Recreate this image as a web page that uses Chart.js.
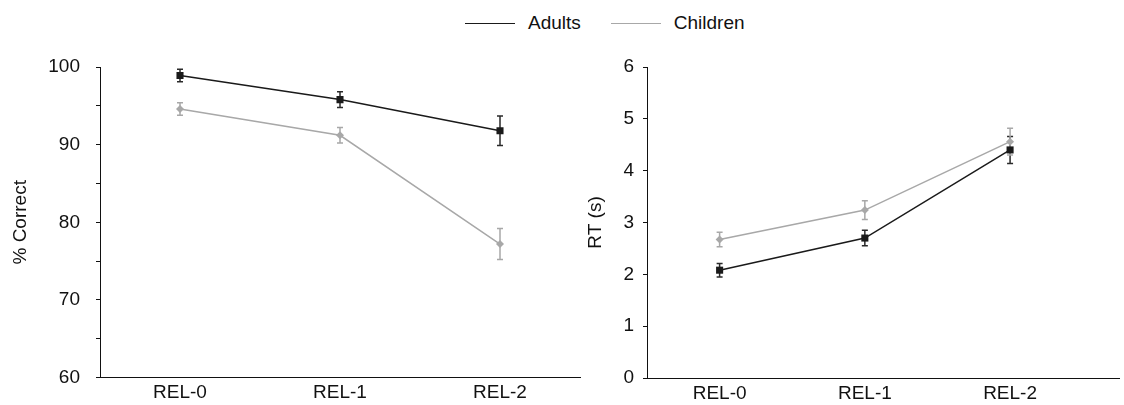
<!DOCTYPE html>
<html>
<head>
<meta charset="utf-8">
<script src="https://cdn.jsdelivr.net/npm/chart.js@4"></script>
<style>
    html, body { margin: 0; padding: 0; background: #fff; }
    body { width: 1124px; height: 405px; position: relative; overflow: hidden; font-family: "Liberation Sans", Arial, sans-serif; }
    #accChart { position: absolute; left: 0; top: 0; }
    #rtChart { position: absolute; left: 575px; top: 0; }
    .legend { position: absolute; top: 12px; left: 465px; display: flex; align-items: center; font-size: 19px; color: #111; }
    .legend .item { display: flex; align-items: center; margin-right: 30px; }
    .legend .swatch { width: 50px; height: 0; border-top: 1.5px solid; margin-right: 13px; }
</style>
</head>
<body>
<div class="legend">
    <div class="item"><span class="swatch" style="border-color:#1a1a1a"></span>Adults</div>
    <div class="item"><span class="swatch" style="border-color:#a8a8a8"></span>Children</div>
</div>
<canvas id="accChart" width="590" height="405"></canvas>
<canvas id="rtChart" width="549" height="405"></canvas>
<script>
// Conditions on the x axis
const categories = ['REL-0', 'REL-1', 'REL-2'];

// % correct
const accAdults = [98.9, 95.8, 91.8];
const accAdultsErr = [0.8, 1.0, 1.9];
const accChildren = [94.6, 91.2, 77.2];
const accChildrenErr = [0.8, 1.0, 2.0];

// reaction time (s)
const rtAdults = [2.08, 2.70, 4.40];
const rtAdultsErr = [0.13, 0.15, 0.26];
const rtChildren = [2.67, 3.24, 4.56];
const rtChildrenErr = [0.14, 0.18, 0.26];

const FONT = '"Liberation Sans", Arial, sans-serif';
const ADULT_COLOR = '#1a1a1a';
const CHILD_COLOR = '#a8a8a8';

// draws vertical error bars with caps, using the chart's own scales
const errorBars = {
    id: 'errorBars',
    beforeDatasetsDraw(chart) {
        const ctx = chart.ctx;
        const x = chart.scales.x;
        const y = chart.scales.y;
        chart.data.datasets.forEach(ds => {
            if (!ds.errors) return;
            ctx.save();
            ctx.strokeStyle = ds.errorColor;
            ctx.lineWidth = 1.5;
            ds.data.forEach((pt, i) => {
                const px = x.getPixelForValue(pt.x);
                const top = y.getPixelForValue(pt.y + ds.errors[i]);
                const bot = y.getPixelForValue(pt.y - ds.errors[i]);
                ctx.beginPath();
                ctx.moveTo(px, top); ctx.lineTo(px, bot);
                ctx.moveTo(px - 3, top); ctx.lineTo(px + 3, top);
                ctx.moveTo(px - 3, bot); ctx.lineTo(px + 3, bot);
                ctx.stroke();
            });
            ctx.restore();
        });
    }
};

function toPoints(values) {
    return values.map((v, i) => ({ x: i, y: v }));
}

function makeChart(canvasId, opts) {
    return new Chart(document.getElementById(canvasId), {
        type: 'line',
        data: {
            datasets: [{
                label: 'Adults',
                data: toPoints(opts.adults),
                errors: opts.adultsErr,
                errorColor: '#2a2a2a',
                borderColor: ADULT_COLOR,
                backgroundColor: ADULT_COLOR,
                borderWidth: 1.5,
                pointStyle: 'rect',
                pointRadius: 5,
                pointBorderWidth: 0
            }, {
                label: 'Children',
                data: toPoints(opts.children),
                errors: opts.childrenErr,
                errorColor: CHILD_COLOR,
                borderColor: CHILD_COLOR,
                backgroundColor: CHILD_COLOR,
                borderWidth: 1.5,
                pointStyle: 'rectRot',
                pointRadius: 4,
                pointBorderWidth: 0
            }]
        },
        options: {
            responsive: false,
            animation: false,
            devicePixelRatio: 1,
            layout: { padding: { top: 67, right: opts.padRight, bottom: 0, left: 0 } },
            plugins: { legend: { display: false }, tooltip: { enabled: false } },
            scales: {
                x: {
                    type: 'linear',
                    min: -0.5,
                    max: opts.xMax,
                    afterBuildTicks: scale => { scale.ticks = categories.map((_, i) => ({ value: i })); },
                    afterFit: scale => { scale.height = 27; },
                    grid: { display: false, drawTicks: false },
                    border: { display: true, color: '#111', width: 1 },
                    ticks: {
                        padding: 4,
                        color: '#111',
                        font: { family: FONT, size: 19 },
                        callback: v => categories[v]
                    }
                },
                y: {
                    min: opts.yMin,
                    max: opts.yMax,
                    afterFit: scale => { scale.width = opts.yWidth; },
                    grid: { display: true, drawOnChartArea: false, drawTicks: true, tickLength: 4, color: '#111' },
                    border: { display: true, color: '#111', width: 1 },
                    ticks: {
                        stepSize: opts.step,
                        padding: opts.tickPad,
                        color: '#111',
                        font: { family: FONT, size: 19 },
                        callback: opts.tickLabel
                    },
                    title: {
                        display: true,
                        text: opts.title,
                        color: '#111',
                        font: { family: FONT, size: 19 },
                        padding: { top: 9, bottom: 0 }
                    }
                }
            }
        },
        plugins: [errorBars]
    });
}

makeChart('accChart', {
    adults: accAdults, adultsErr: accAdultsErr,
    children: accChildren, childrenErr: accChildrenErr,
    yMin: 60, yMax: 100, step: 5,
    tickLabel: v => (v % 10 === 0 ? v : ''),
    title: '% Correct',
    yWidth: 100, tickPad: 16, padRight: 10, xMax: 2.5
});

makeChart('rtChart', {
    adults: rtAdults, adultsErr: rtAdultsErr,
    children: rtChildren, childrenErr: rtChildrenErr,
    yMin: 0, yMax: 6, step: 1,
    tickLabel: v => v,
    title: 'RT (s)',
    yWidth: 72, tickPad: 9, padRight: 0, xMax: 2.75
});
</script>
</body>
</html>
